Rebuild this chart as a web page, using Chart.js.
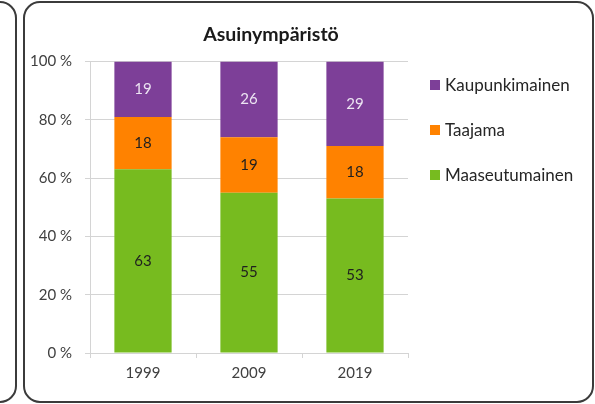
<!DOCTYPE html>
<html>
<head>
<meta charset="utf-8">
<script src="https://cdn.jsdelivr.net/npm/chart.js@4"></script>
<style>
    html, body { margin: 0; padding: 0; background: #fff; }
    #wrap { position: relative; width: 595px; height: 404px; overflow: hidden; font-family: Lato, "Open Sans", sans-serif; }
    #chart { position: absolute; left: 0; top: 0; }
    .frame { position: absolute; box-sizing: border-box; border: 2px solid #3b3b3b; border-radius: 17px; }
    #title { position: absolute; left: 0; top: 23px; width: 542px; text-align: center; font-weight: bold; font-size: 19.5px; line-height: 22px; color: #1a1a1a; }
    #legend { position: absolute; left: 430px; top: 0; }
    .item { position: absolute; left: 0; white-space: nowrap; font-size: 17px; line-height: 20px; color: #262626; }
    .item span { display: inline-block; width: 10px; height: 10px; margin-right: 5px; vertical-align: 1px; }
</style>
</head>
<body>
<div id="wrap">
    <div class="frame" style="left:-220px; top:1px; width:237px; height:402px;"></div>
    <div class="frame" style="left:23px; top:1px; width:571px; height:402px;"></div>
    <canvas id="chart" width="595" height="404"></canvas>
    <div id="title">Asuinympäristö</div>
    <div id="legend"></div>
</div>
<script>
// data (percent)
const years = ["1999", "2009", "2019"];
const maaseutumainen = [63, 55, 53];
const taajama = [18, 19, 18];
const kaupunkimainen = [19, 26, 29];
const yTicks = [0, 20, 40, 60, 80, 100];

const seriesNames = ["Maaseutumainen", "Taajama", "Kaupunkimainen"];
const seriesColors = ["#77bb1f", "#ff8200", "#7d3f98"];
const labelColors = ["#1f1f1f", "#1f1f1f", "#ece4f2"];

// value labels in the middle of each segment
const segmentLabels = {
    id: "segmentLabels",
    afterDatasetsDraw(chart) {
        const ctx = chart.ctx;
        ctx.save();
        ctx.font = "15px Lato";
        ctx.textAlign = "center";
        ctx.textBaseline = "middle";
        chart.data.datasets.forEach((ds, i) => {
            chart.getDatasetMeta(i).data.forEach((bar, j) => {
                ctx.fillStyle = labelColors[i];
                ctx.fillText(ds.data[j], bar.x, (bar.y + bar.base) / 2);
            });
        });
        ctx.restore();
    }
};

const gridColor = "#d4d4d4";

new Chart(document.getElementById("chart"), {
    type: "bar",
    data: {
        labels: years,
        datasets: [maaseutumainen, taajama, kaupunkimainen].map((values, i) => ({
            label: seriesNames[i],
            data: values,
            backgroundColor: seriesColors[i],
            barPercentage: 0.54,
            categoryPercentage: 1,
        })),
    },
    options: {
        responsive: false,
        animation: false,
        layout: { padding: { left: 30, right: 187, top: 61.5, bottom: 21 } },
        plugins: {
            legend: { display: false },
            title: { display: false },
            tooltip: { enabled: false },
        },
        scales: {
            x: {
                stacked: true,
                grid: { drawOnChartArea: false, drawTicks: true, tickLength: 5, color: gridColor },
                border: { color: gridColor },
                ticks: { color: "#404040", font: { family: "Lato", size: 15 }, padding: 6 },
                afterFit: (s) => { s.height = 30; },
            },
            y: {
                stacked: true,
                min: 0,
                max: 100,
                afterBuildTicks: (s) => { s.ticks = yTicks.map((v) => ({ value: v })); },
                grid: { color: gridColor, tickLength: 5 },
                border: { color: gridColor },
                ticks: {
                    color: "#404040",
                    font: { family: "Lato", size: 15 },
                    padding: 13,
                    callback: (v) => v + " %",
                },
                afterFit: (s) => { s.width = 60; },
            },
        },
    },
    plugins: [segmentLabels],
});

// legend, top item first like in the picture
const legend = document.getElementById("legend");
const legendY = [85, 130, 175];
seriesNames.slice().reverse().forEach((name, k) => {
    const i = seriesNames.length - 1 - k;
    const div = document.createElement("div");
    div.className = "item";
    div.style.top = (legendY[k] - 10) + "px";
    div.innerHTML = '<span style="background:' + seriesColors[i] + '"></span>' + name;
    legend.appendChild(div);
});
</script>
</body>
</html>
